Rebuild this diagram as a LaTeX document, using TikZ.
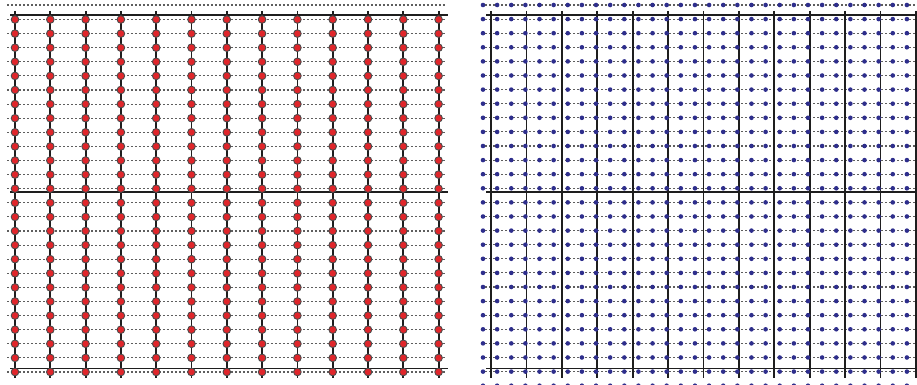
\documentclass[tikz,border=0pt]{standalone}
\usepackage{xcolor}
\definecolor{Ink}{HTML}{1E1E1E}
\definecolor{DashGray}{HTML}{5E5E5E}
\definecolor{DotRed}{HTML}{E0262B}
\definecolor{DotBlue}{HTML}{2E2E8C}
\usepackage{tikz}

\begin{document}
\begin{tikzpicture}[x=0.5pt, y=-0.5pt,
  rowline/.style={draw=DashGray, line width=0.55pt, dash pattern=on 1.2pt off 0.8pt},
  bnd/.style={draw=Ink, line width=0.9pt},
  pdot/.style={fill=DotRed, draw=Ink!80, line width=0.45pt},
  udot/.style={fill=DotBlue}
]
\useasboundingbox (0,0) rectangle (917,385);

%% ---- Left panel: staggered rows ----
\draw[rowline] (7,5) -- (445,5);
\foreach \j in {0,...,25}
  \draw[rowline] (7,{19.5+14.1*\j}) -- (445,{19.5+14.1*\j});

%% boundaries
\foreach \yb in {15,191.7,368.5}
  \draw[bnd] (10,\yb) -- (448,\yb);
\foreach \k in {0,...,12}
  \draw[bnd] ({15+35.3*\k},11) -- ({15+35.3*\k},378);

%% red points on the vertical lines
\foreach \k in {0,...,12}
  \foreach \j in {0,...,25}
    \filldraw[pdot] ({15+35.3*\k},{19.5+14.1*\j}) circle (1.9pt);

%% ---- Right panel ----
\foreach \j in {0,...,27}
  \draw[rowline] (481,{5+14.1*\j}) -- (917,{5+14.1*\j});

\foreach \yb in {15,191.7,368.5}
  \draw[bnd] (486,\yb) -- (917,\yb);
\foreach \k in {0,...,12}
  \draw[bnd] ({491+35.4*\k},11) -- ({491+35.4*\k},378);

%% blue points along the rows
\foreach \k in {0,...,30}
  \foreach \j in {0,...,27}
    \fill[udot] ({483+14.13*\k},{5+14.1*\j}) circle (1.15pt);

\end{tikzpicture}
\end{document}
